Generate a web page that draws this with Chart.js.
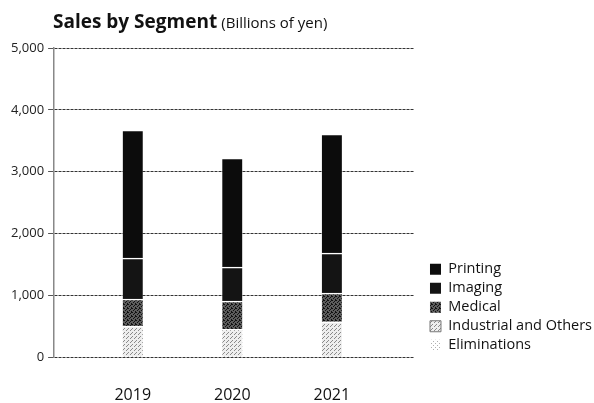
<!DOCTYPE html>
<html>
<head>
<meta charset="utf-8">
<script src="https://cdn.jsdelivr.net/npm/chart.js@4.4.1/dist/chart.umd.min.js"></script>
<style>
body { margin: 0; background: #fff; }
#wrap { position: relative; width: 594px; height: 403px; overflow: hidden; }
#title { position: absolute; left: 53px; top: 8px; font-family: 'Open Sans', sans-serif; color: #111; white-space: nowrap; }
#title b { font-size: 19px; font-weight: 700; }
#title span { font-size: 15px; }
</style>
</head>
<body>
<div id="wrap">
<canvas id="myChart" width="594" height="403"></canvas>
<div id="title"><b>Sales by Segment</b> <span>(Billions of yen)</span></div>
</div>
<script>
// values (billions of yen)
var years = ['2019', '2020', '2021'];
var printing = [2071, 1764, 1925];
var imaging = [663, 550, 647];
var medical = [437, 453, 466];
var industrial = [502, 453, 570];
var eliminations = [-170, -150, -160]; // negative, falls below the 0 line

var yTicks = [0, 1000, 2000, 3000, 4000, 5000];

// little fill textures, like the print
function makePattern(base, dot, cells) {
    var c = document.createElement('canvas');
    c.width = 4; c.height = 4;
    var g = c.getContext('2d');
    g.fillStyle = base;
    g.fillRect(0, 0, 4, 4);
    g.fillStyle = dot;
    cells.forEach(function (p) { g.fillRect(p[0], p[1], 1, 1); });
    return g.createPattern(c, 'repeat');
}
var ctx = document.getElementById('myChart').getContext('2d');
var medicalFill = makePattern('#5c5c5c', '#111', [[0, 0], [2, 1], [1, 2], [3, 3], [3, 0]]);
var industrialFill = makePattern('#eeeeee', '#8a8a8a', [[0, 0], [2, 2], [3, 1]]);
var elimFill = makePattern('#ffffff', '#b0b0b0', [[1, 1], [3, 3]]);

function pts(arr) {
    return arr.map(function (v, i) { return { x: i, y: v }; });
}
var sep = { top: 1.5, bottom: 0, left: 0, right: 0 };

var myChart = new Chart(ctx, {
    type: 'bar',
    data: {
        datasets: [
            { label: 'Eliminations', data: pts(eliminations), backgroundColor: elimFill, borderColor: '#fff', borderWidth: 0, stack: 's' },
            { label: 'Industrial and Others', data: pts(industrial), backgroundColor: industrialFill, borderColor: '#fff', borderWidth: sep, stack: 's' },
            { label: 'Medical', data: pts(medical), backgroundColor: medicalFill, borderColor: '#fff', borderWidth: sep, stack: 's' },
            { label: 'Imaging', data: pts(imaging), backgroundColor: '#141414', borderColor: '#fff', borderWidth: sep, stack: 's' },
            { label: 'Printing', data: pts(printing), backgroundColor: '#0c0c0c', borderColor: '#fff', borderWidth: sep, stack: 's' }
        ]
    },
    options: {
        responsive: false,
        animation: false,
        barThickness: 20,
        layout: { padding: { top: 48, left: 7, right: -8, bottom: 0 } },
        plugins: {
            title: { display: false },
            tooltip: { enabled: false },
            legend: {
                position: 'right',
                align: 'end',
                fullSize: false,
                reverse: true,
                maxWidth: 220,
                labels: {
                    boxWidth: 11,
                    boxHeight: 11,
                    padding: 4.5,
                    color: '#111',
                    font: { family: 'Open Sans', size: 14.5 },
                    generateLabels: function (chart) {
                        var items = Chart.defaults.plugins.legend.labels.generateLabels(chart);
                        items.forEach(function (it) {
                            it.lineWidth = 0;
                            if (it.text === 'Industrial and Others') {
                                it.strokeStyle = '#777';
                                it.lineWidth = 1;
                            }
                        });
                        return items;
                    }
                }
            }
        },
        scales: {
            x: {
                type: 'linear',
                offset: false,
                bounds: 'data',
                min: -0.79,
                max: 2.83,
                grid: { display: false, drawTicks: false, offset: false },
                border: { display: false },
                afterDataLimits: function (s) { s.min = -0.79; s.max = 2.83; },
                afterBuildTicks: function (axis) {
                    axis.ticks = years.map(function (y, i) { return { value: i }; });
                },
                afterFit: function (s) { s.height = 46; },
                ticks: {
                    autoSkip: false,
                    maxRotation: 0,
                    padding: 29,
                    color: '#111',
                    font: { family: 'Open Sans', size: 16 },
                    callback: function (v) { return years[v]; }
                }
            },
            y: {
                min: 0,
                max: 5000,
                afterBuildTicks: function (axis) {
                    axis.ticks = yTicks.map(function (v) { return { value: v }; });
                },
                grid: { color: '#333', lineWidth: 1, tickLength: 6, tickColor: '#555' },
                border: { display: true, color: '#888', width: 1.5, dash: [3, 1] },
                ticks: {
                    padding: 4,
                    color: '#222',
                    font: { family: 'Open Sans', size: 13 },
                    callback: function (v) { return v.toLocaleString('en-US'); }
                }
            },
            gap: {
                position: 'right',
                grid: { display: false },
                border: { display: false },
                ticks: { display: false },
                afterFit: function (s) { s.width = 11; }
            }
        }
    }
});
</script>
</body>
</html>
